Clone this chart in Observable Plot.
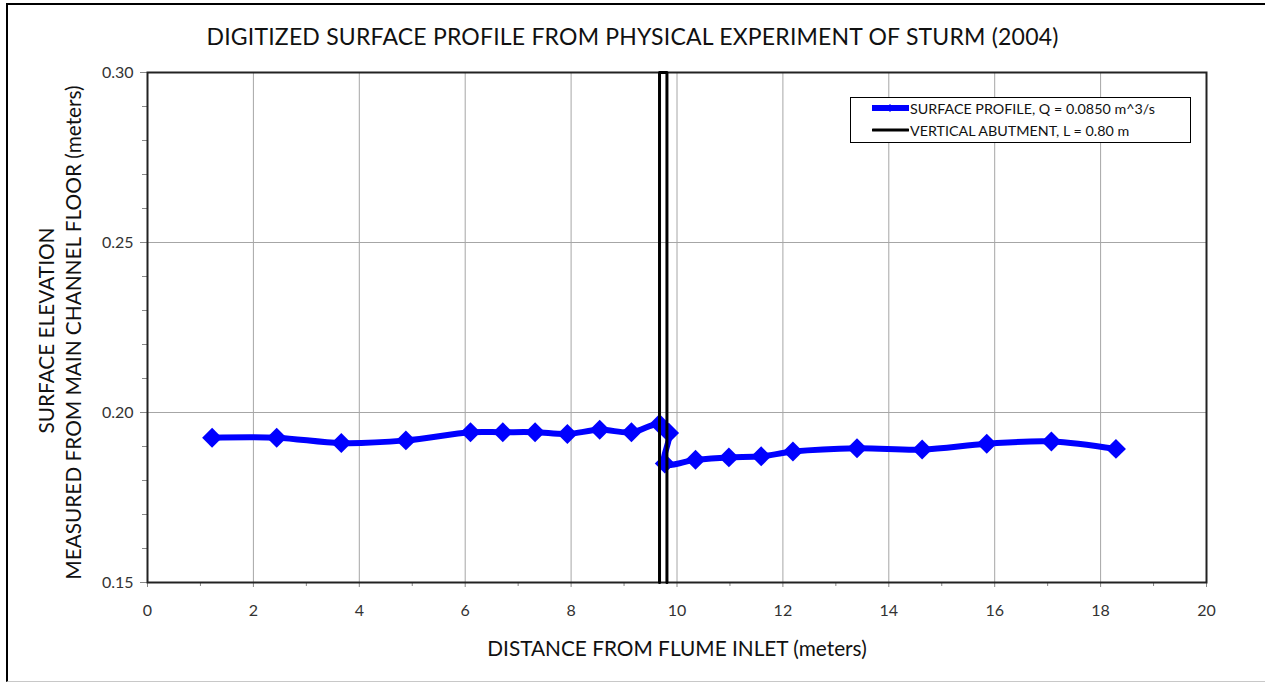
<!DOCTYPE html>
<html>
<head>
<meta charset="utf-8">
<script src="https://cdn.jsdelivr.net/npm/d3@7"></script>
<script src="https://cdn.jsdelivr.net/npm/@observablehq/plot@0.6"></script>
<style>
  html, body { margin: 0; padding: 0; background: #fff; }
  #wrap { position: relative; width: 1265px; height: 682px; overflow: hidden; font-family: Lato, "Open Sans", sans-serif; background: #fff; }
  #border { position: absolute; left: 6px; top: 3px; width: 1300px; height: 676px; border-left: 2px solid #000; border-top: 2px solid #000; border-bottom: 1px solid #c8c8c8; z-index: 5; pointer-events: none; }
  #title { position: absolute; left: 0; top: 0; width: 1265px; height: 50px; line-height: 72px; text-align: center; font-size: 23px; color: #111; letter-spacing: 0.2px; z-index: 2; }
  #chart { position: absolute; left: 0; top: 50px; }
  #legend { position: absolute; left: 850px; top: 97px; width: 339px; height: 44px; border: 1px solid #000; background: #fff; font-size: 14.3px; color: #111; z-index: 3; }
  .lrow { position: absolute; left: 0; height: 20px; display: flex; align-items: center; }
  .lrow svg { margin-left: 21px; }
  .lrow span { margin-left: 1px; }
</style>
</head>
<body>
<div id="wrap">
  <div id="border"></div>
  <div id="title"></div>
  <div id="chart"></div>
  <div id="legend"></div>
</div>
<script>
const profileX = [1.22, 2.44, 3.66, 4.88, 6.10, 6.71, 7.32, 7.93, 8.54, 9.14, 9.67, 9.85, 9.77, 10.35, 10.98, 11.59, 12.19, 13.40, 14.63, 15.85, 17.07, 18.29];
const profileY = [0.1926, 0.1926, 0.1910, 0.1918, 0.1942, 0.1942, 0.1942, 0.1937, 0.1949, 0.1942, 0.1966, 0.1940, 0.1850, 0.1861, 0.1868, 0.1871, 0.1885, 0.1895, 0.1891, 0.1908, 0.1915, 0.1893];
// Vertical abutment outline
const abutX = [9.67, 9.67, 9.81, 9.81];
const abutY = [0.15, 0.30, 0.30, 0.15];
// Axis ticks
const xTicks = [0, 2, 4, 6, 8, 10, 12, 14, 16, 18, 20];
const xMinor = [1, 3, 5, 7, 9, 11, 13, 15, 17, 19];
const yTicks = [0.15, 0.20, 0.25, 0.30];
const yMinor = [0.16, 0.17, 0.18, 0.19, 0.21, 0.22, 0.23, 0.24, 0.26, 0.27, 0.28, 0.29];
const seriesNames = ["SURFACE PROFILE, Q = 0.0850 m^3/s", "VERTICAL ABUTMENT, L = 0.80 m"];
const seriesColors = ["#0000ff", "#000000"];
const titleText = "DIGITIZED SURFACE PROFILE FROM PHYSICAL EXPERIMENT OF STURM (2004)";
const xLabel = "DISTANCE FROM FLUME INLET (meters)";
const yLabel1 = "SURFACE ELEVATION";
const yLabel2 = "MEASURED FROM MAIN CHANNEL FLOOR (meters)";

document.getElementById("title").textContent = titleText;

const profile = profileX.map((x, i) => ({x, y: profileY[i]}));
const abut = abutX.map((x, i) => ({x, y: abutY[i]}));

const W = 1265, H = 632;
const mL = 147, mR = 59, mT = 22, mB = 100;

const chart = Plot.plot({
  width: W,
  height: H,
  marginLeft: mL, marginRight: mR, marginTop: mT, marginBottom: mB,
  style: {fontFamily: "Lato, 'Open Sans', sans-serif", background: "transparent", overflow: "visible"},
  x: {domain: [0, 20]},
  y: {domain: [0.15, 0.30]},
  marks: [
    Plot.gridX(xTicks, {stroke: "#a6a6a6", strokeOpacity: 1, strokeWidth: 1}),
    Plot.gridY(yTicks, {stroke: "#a6a6a6", strokeOpacity: 1, strokeWidth: 1}),
    Plot.axisX(xTicks, {tickSize: 5, tickPadding: 17, fontSize: 16, stroke: "#888", fill: "#333", tickFormat: d3.format("d"), label: null}),
    Plot.axisX(xMinor, {tickSize: 4, stroke: "#888", tickFormat: () => "", label: null}),
    Plot.axisY(yTicks, {tickSize: 7, tickPadding: 7, fontSize: 16, stroke: "#888", fill: "#333", tickFormat: d3.format(".2f"), label: null}),
    Plot.axisY(yMinor, {tickSize: 5, stroke: "#888", tickFormat: () => "", label: null}),
    Plot.frame({stroke: "#222", strokeWidth: 2}),
    Plot.line(profile, {x: "x", y: "y", stroke: seriesColors[0], strokeWidth: 6, curve: "catmull-rom"}),
    Plot.dot(profile, {x: "x", y: "y", symbol: "diamond2", r: 9, fill: seriesColors[0], stroke: "none"}),
    Plot.line(abut, {x: "x", y: "y", stroke: seriesColors[1], strokeWidth: 3}),
    Plot.text([xLabel], {frameAnchor: "bottom", dy: 73, fontSize: 20.8, fill: "#111"}),
    Plot.text([yLabel1], {frameAnchor: "left", textAnchor: "middle", dx: -100, dy: 3, rotate: -90, fontSize: 20.8, fill: "#111"}),
    Plot.text([yLabel2], {frameAnchor: "left", textAnchor: "middle", dx: -73, dy: 5, rotate: -90, fontSize: 20.8, fill: "#111"})
  ]
});
document.getElementById("chart").appendChild(chart);

// legend
const leg = document.getElementById("legend");
seriesNames.forEach((name, i) => {
  const row = document.createElement("div");
  row.className = "lrow";
  row.style.top = (i === 0 ? 0 : 22) + "px";
  const s = d3.create("svg").attr("width", 37).attr("height", 20);
  s.append("line").attr("x1", 1).attr("x2", 36).attr("y1", 10).attr("y2", 10)
    .attr("stroke", seriesColors[i]).attr("stroke-width", i === 0 ? 6 : 3).attr("stroke-linecap", "round");
  if (i === 0) s.append("path").attr("d", d3.symbol(d3.symbolDiamond2, 40)()).attr("transform", "translate(18,10)").attr("fill", seriesColors[0]);
  row.appendChild(s.node());
  const t = document.createElement("span");
  t.textContent = name;
  row.appendChild(t);
  leg.appendChild(row);
});
</script>
</body>
</html>
